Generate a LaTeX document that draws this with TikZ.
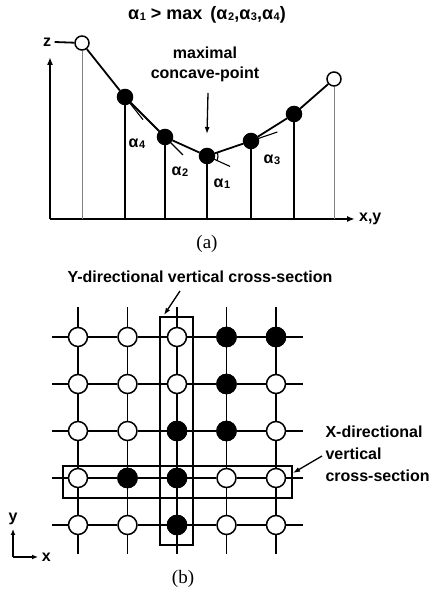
\documentclass[tikz,border=0pt]{standalone}
\usepackage{fontspec}
\setmainfont{Liberation Serif}
\setsansfont{Liberation Sans}
\usetikzlibrary{arrows.meta,calc}

% alpha with a small index
\newcommand{\alp}[1]{α\kern0.6pt\raisebox{-1pt}{\fontsize{11}{11}\selectfont#1}}

\begin{document}
\begin{tikzpicture}[x=1pt, y=1pt, font=\fontsize{16}{19}\sffamily\bfseries,
  opn/.style={circle, draw, line width=1.5pt, fill=white, minimum size=14pt, inner sep=0pt},
  ful/.style={opn, fill=black, minimum size=15pt},
  gopn/.style={opn, minimum size=19pt},
  gful/.style={gopn, fill=black},
  curve/.style={line width=1.8pt},
  drop/.style={line width=1.3pt},
  faint/.style={line width=0.6pt, gray},
  ext/.style={line width=1.1pt},
  axis/.style={line width=1.6pt, -{Latex[length=8pt, width=6pt]}},
  grid/.style={line width=1.5pt},
  cut/.style={line width=1.5pt},
  pointer/.style={line width=1.3pt, -{Latex[length=7pt, width=5pt]}}]
  \useasboundingbox (0,0) rectangle (430,596);

  % ---------------- (a) profile ----------------
  \node[font=\fontsize{18}{20}\sffamily\bfseries] (ttl) at (207,581)
    {\alp{1} > max\, (\alp{2},\alp{3},\alp{4})};

  \coordinate (o) at (50,377);   % origin of the axes
  \draw[axis] (o) -- (50,539);
  \draw[axis] (o) -- (355,377) node[right] (xy) {x,y};

  \node[opn] (p0) at (82,553) {};
  \node[ful] (p1) at (125,499) {};
  \node[ful] (p2) at (165,459) {};
  \node[ful] (p3) at (207,440) {};
  \node[ful] (p4) at (251,455) {};
  \node[ful] (p5) at (294,482) {};
  \node[opn] (p6) at (334,517) {};

  \node (z) at (47,554) {z};
  \draw[curve] (z.east) -- (p0);

  % drops down to the x,y axis
  \draw[faint] (p0) -- (p0 |- o);
  \draw[faint] (p6) -- (p6 |- o);
  \foreach \p in {p1,p2,p3,p4,p5}
    \draw[drop] (\p) -- (\p |- o);

  % extensions of the incoming segments
  \draw[ext] (p1.center) -- ($(p1)!-0.42!(p0)$);
  \draw[ext] (p2.center) -- ($(p2)!-0.45!(p1)$);
  \draw[ext] (p3.center) -- ($(p3)!-0.55!(p2)$);
  \draw[ext] (p4.center) -- ($(p4)!-0.6!(p3)$);
  \draw[ext] (p3.center) ++(-24:11) arc (-24:19:11);

  \draw[curve] (p0) -- (p1) -- (p2) -- (p3) -- (p4) -- (p5) -- (p6);

  \node[align=center, font=\fontsize{16}{20}\sffamily\bfseries] (mcp) at (205,532) {maximal\\concave-point};
  \draw[pointer] (208,503) -- (p3.north |- 0,462);

  \node at (137,452) {\alp{4}};
  \node at (180,424) {\alp{2}};
  \node at (222,412) {\alp{1}};
  \node at (272,436) {\alp{3}};

  \node[font=\fontsize{19}{21}\rmfamily] (la) at (207,352) {(a)};

  % ---------------- (b) grid ----------------
  \node (ylab) at (200,319) {Y-directional vertical cross-section};

  \foreach \r in {1,...,5}
    \foreach \c in {1,...,5}
      \node[gopn] (n\r\c) at ({78+49.5*(\c-1)},{259-47*(\r-1)}) {};
  \foreach \rc in {14,15,24,33,34,42,43,53}
    \node[gful] at (n\rc) {};

  \foreach \r in {1,...,5} {
    \draw[grid] (n\r1.west) -- ++(-16,0);
    \draw[grid] (n\r5.east) -- ++(17,0);
    \draw[grid] (n\r1) -- (n\r2) -- (n\r3) -- (n\r4) -- (n\r5);
  }
  \foreach \c in {1,...,5} {
    \draw[grid] (n1\c.north) -- ++(0,20);
    \draw[grid] (n5\c.south) -- ++(0,-19);
    \draw[grid] (n1\c) -- (n2\c) -- (n3\c) -- (n4\c) -- (n5\c);
  }

  % the two cross-sections
  \draw[cut] ($(n13)+(-17,20)$) rectangle ($(n53)+(16,-20)$);
  \draw[cut] ($(n41)+(-15,12)$) rectangle ($(n45)+(16,-20)$);
  \coordinate (ytip) at ($(n13)+(-13,22)$);
  \coordinate (xtip) at ($(n45)+(17,5)$);
  \draw[pointer] (180,305) -- (ytip);

  \node[align=left, anchor=west, font=\fontsize{16}{22}\sffamily\bfseries] (xlab) at (322,142)
    {X-directional\\vertical\\cross-section};
  \draw[pointer] (322,140) -- (xtip);

  % small x-y axes
  \coordinate (c0) at (13,39);
  \draw[line width=1.3pt, -{Latex[length=6pt, width=5pt]}] (c0) -- ++(0,28) node[above] (ly) {y};
  \draw[line width=1.3pt, -{Latex[length=6pt, width=5pt]}] (c0) -- ++(25,0) node[right] (lx) {x};

  \node[font=\fontsize{19}{21}\rmfamily] (lb) at (183,17) {(b)};
\end{tikzpicture}
\end{document}
